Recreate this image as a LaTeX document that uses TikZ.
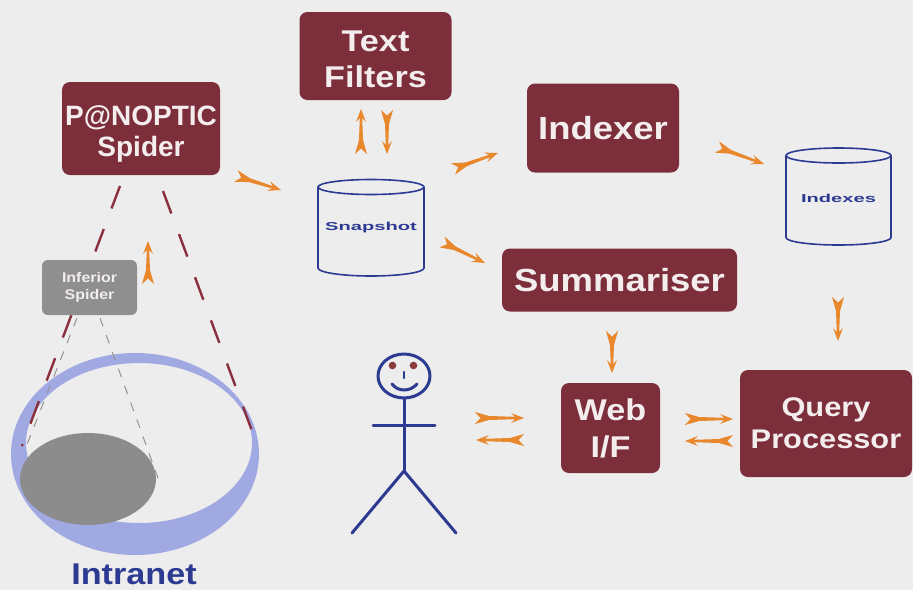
\documentclass[tikz,border=0pt]{standalone}
\usepackage{fontspec}
\setmainfont{Liberation Sans}
\newfontfamily\namefont{Liberation Sans}
\newfontfamily\labelfont{Liberation Sans}[FakeStretch=1.14]
\newfontfamily\dbfont{Liberation Sans}[FakeStretch=1.75]
\usetikzlibrary{calc}

\definecolor{bg}{HTML}{EDEDEE}
\definecolor{maroon}{HTML}{7D2E3B}
\definecolor{boxtext}{HTML}{F3EDED}
\definecolor{arrowc}{HTML}{E8872B}
\definecolor{inkblue}{HTML}{2D3A92}
\definecolor{ringblue}{HTML}{A1A9E3}
\definecolor{lan}{HTML}{8C8C8C}
\definecolor{subbox}{HTML}{8F8F8F}
\definecolor{eyec}{HTML}{8A3B3B}
\definecolor{viewline}{HTML}{8B2F3C}

% points along a connector: distance from the start (or end), then sideways offset
\newcommand\FromS[2]{($(\tikztostart)!#1!(\tikztotarget)!#2!90:(\tikztotarget)$)}
\newcommand\FromT[2]{($(\tikztotarget)!#1!(\tikztostart)!#2!-90:(\tikztostart)$)}

\tikzset{
  module/.style={fill=maroon, rounded corners=8pt, text=boxtext, align=center, inner sep=0pt},
  subspider/.style={fill=subbox, rounded corners=6pt, text=boxtext, align=center, inner sep=0pt},
  dbline/.style={draw=inkblue, line width=1.6pt},
  dblabel/.style={text=inkblue, font=\dbfont\bfseries\fontsize{11.5}{13}\selectfont, inner sep=0pt},
  person/.style={draw=inkblue, line width=3pt, line cap=round, line join=round},
  viewcone/.style={draw=viewline, line width=2.4pt, dash pattern=on 24pt off 22pt},
  subcone/.style={draw=gray!85, line width=1pt, dash pattern=on 9pt off 9pt},
  flow/.style={to path={
    \FromS{0pt}{6pt} -- \FromS{14pt}{2pt} -- \FromT{9pt}{1.2pt} -- \FromT{13pt}{5pt}
    -- (\tikztotarget) -- \FromT{13pt}{-5pt} -- \FromT{9pt}{-1.2pt} -- \FromS{14pt}{-2pt}
    -- \FromS{0pt}{-6pt} -- \FromS{5.5pt}{0pt} -- cycle}},
}

\begin{document}
\begin{tikzpicture}[x=1pt, y=-1pt]
\fill[bg] (0,0) rectangle (913,590);
\useasboundingbox (0,0) rectangle (913,590);

% the intranet: a ring with the part reached by the inferior spider
\fill[ringblue, even odd rule] (135,454) ellipse[x radius=124pt, y radius=101pt]
                               (139,443) ellipse[x radius=113pt, y radius=80pt];
\fill[lan] (88,479) ellipse[x radius=68pt, y radius=46pt];
\node[text=inkblue, font=\labelfont\bfseries\fontsize{30}{32}\selectfont, anchor=base, inner sep=0pt]
  (intranet) at (134,584) {Intranet};

% view cones
\coordinate (coneL0) at (120,186); \coordinate (coneL1) at (22,446);
\coordinate (coneR0) at (163,191); \coordinate (coneR1) at (258,447);
\draw[viewcone] (coneL0) -- (coneL1);
\draw[viewcone] (coneR0) -- (coneR1);
\coordinate (subL0) at (77,318); \coordinate (subL1) at (24,452);
\coordinate (subR0) at (100,318); \coordinate (subR1) at (158,478);
\draw[subcone] (subL0) -- (subL1);
\draw[subcone] (subR0) -- (subR1);

% processing modules
\node[module, minimum width=158pt, minimum height=93pt, text height=61.5pt,
      font=\namefont\bfseries\fontsize{28}{31}\selectfont] (spider) at (141,128.5) {P@NOPTIC\\Spider};
\node[module, minimum width=152pt, minimum height=88pt, text height=63pt,
      font=\labelfont\bfseries\fontsize{30}{36}\selectfont] (filters) at (375.5,56) {Text\\Filters};
\node[module, minimum width=152pt, minimum height=89pt,
      font=\labelfont\bfseries\fontsize{32}{36}\selectfont] (indexer) at (603,128) {Indexer};
\node[module, minimum width=235pt, minimum height=63pt,
      font=\labelfont\bfseries\fontsize{32}{36}\selectfont] (summ) at (619.5,280) {Summariser};
\node[module, minimum width=99pt, minimum height=90pt,
      font=\labelfont\bfseries\fontsize{30}{37}\selectfont] (web) at (610.5,428) {Web\\I/F};
\node[module, minimum width=172pt, minimum height=107pt,
      font=\labelfont\bfseries\fontsize{27}{32}\selectfont] (query) at (826,423.5) {Query\\Processor};
\node[subspider, minimum width=95pt, minimum height=55pt,
      font=\labelfont\bfseries\fontsize{14}{17}\selectfont] (inferior) at (89.5,287.5) {Inferior\\Spider};

% data stores
\draw[dbline] (318,187) -- (318,268) arc[start angle=180, end angle=360, x radius=53pt, y radius=8pt] -- (424,187);
\draw[dbline] (371,187) ellipse[x radius=53pt, y radius=7.5pt];
\node[dblabel] (snapshot) at (371,228) {Snapshot};
\draw[dbline] (786,155.5) -- (786,237.5) arc[start angle=180, end angle=360, x radius=52.5pt, y radius=7.5pt] -- (891,155.5);
\draw[dbline] (838.5,155.5) ellipse[x radius=52.5pt, y radius=7.5pt];
\node[dblabel] (indexes) at (838.5,198) {Indexes};

% the user
\draw[person] (404,376) ellipse[x radius=26pt, y radius=22pt];
\fill[eyec] (392.5,365.5) circle[radius=3.8pt];
\fill[eyec] (413.5,365.5) circle[radius=3.8pt];
\draw[person, line width=2.6pt] (404,372) -- (404,378);
\draw[person] (392,384) .. controls (398,392) and (410,392) .. (417,384);
\draw[person] (404,399) -- (404,471);
\draw[person] (373,425) -- (435,425);
\draw[person] (352,533) -- (404,471) -- (456,533);

% data flow
\coordinate (f1a) at (236,176);  \coordinate (f1b) at (281,190);
\coordinate (f2a) at (361,154);  \coordinate (f2b) at (361,109);
\coordinate (f3a) at (387,110);  \coordinate (f3b) at (387,154);
\coordinate (f4a) at (453,169);  \coordinate (f4b) at (498,153);
\coordinate (f5a) at (442,242);  \coordinate (f5b) at (485,263);
\coordinate (f6a) at (717,147);  \coordinate (f6b) at (764,164);
\coordinate (f7a) at (838,297);  \coordinate (f7b) at (838,341);
\coordinate (f8a) at (612,331);  \coordinate (f8b) at (612,373);
\coordinate (f9a) at (475,418);  \coordinate (f9b) at (524,418);
\coordinate (f10a) at (524,440); \coordinate (f10b) at (476,440);
\coordinate (f11a) at (685,419); \coordinate (f11b) at (733,419);
\coordinate (f12a) at (733,441); \coordinate (f12b) at (685,441);
\coordinate (f13a) at (148,284); \coordinate (f13b) at (148,241);
\foreach \k in {1,...,13} {
  \fill[arrowc] (f\k a) to[flow] (f\k b);
}
\end{tikzpicture}
\end{document}
